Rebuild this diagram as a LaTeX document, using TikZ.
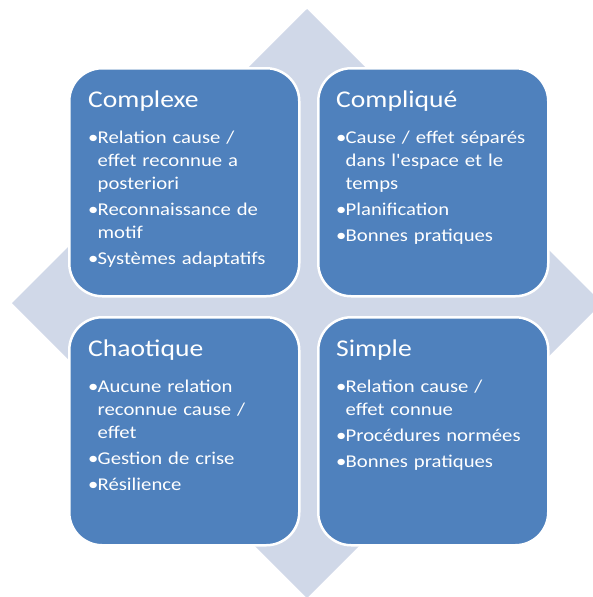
\documentclass[tikz,border=0pt]{standalone}
\usepackage{fontspec}
\setmainfont[FakeStretch=1.15,Ligatures=TeXOff]{Carlito}
\definecolor{boxblue}{HTML}{4F81BD}
\definecolor{diamondgrey}{HTML}{D0D8E8}
\newcommand\bl{\makebox[9.5pt][l]{•}}
\newcommand\ind{\hspace*{9.5pt}}
\tikzset{
  quad/.style={draw=white, line width=2.5pt, fill=boxblue, rounded corners=33pt,
    minimum width=230pt, minimum height=228pt, inner sep=0pt, anchor=north west},
  ttl/.style={anchor=base west, inner sep=0pt, text=white, font=\fontsize{24}{28}\selectfont},
  items/.style={anchor=base west, inner sep=0pt, text=white, text width=215pt, align=left,
    font=\fontsize{18}{23}\selectfont}
}
\begin{document}
\begin{tikzpicture}[x=1pt,y=-1pt]
\useasboundingbox (0,0) rectangle (593,597);
\begin{scope}
\clip (0,0) rectangle (593,597);
\fill[diamondgrey] (12,303) -- (307,9) -- (602,303) -- (307,598) -- cycle;
\end{scope}
\node[quad] (cx) at (68,67) {};
\node[quad] (cq) at (317,67) {};
\node[quad] (ch) at (68,316) {};
\node[quad] (si) at (317,316) {};

\node[ttl] (cxt) at (88,107) {Complexe};
\node[items] (cxi) at (88,143) {\bl Relation cause /\\\ind effet reconnue a\\\ind posteriori\\[3pt]\bl Reconnaissance de\\\ind motif\\[3pt]\bl Systèmes adaptatifs};

\node[ttl] (cqt) at (336,107) {Compliqué};
\node[items] (cqi) at (336,143) {\bl Cause / effet séparés\\\ind dans l'espace et le\\\ind temps\\[3pt]\bl Planification\\[3pt]\bl Bonnes pratiques};

\node[ttl] (cht) at (88,356) {Chaotique};
\node[items] (chi) at (88,392) {\bl Aucune relation\\\ind reconnue cause /\\\ind effet\\[3pt]\bl Gestion de crise\\[3pt]\bl Résilience};

\node[ttl] (sit) at (336,356) {Simple};
\node[items] (sii) at (336,392) {\bl Relation cause /\\\ind effet connue\\[3pt]\bl Procédures normées\\[3pt]\bl Bonnes pratiques};
\end{tikzpicture}
\end{document}
